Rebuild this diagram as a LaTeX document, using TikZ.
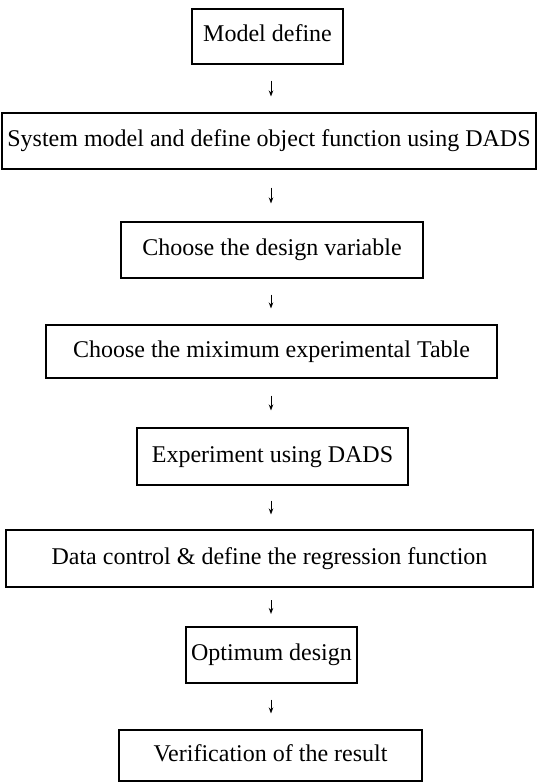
\documentclass[tikz,border=0pt]{standalone}
\usepackage{fontspec}
\setmainfont{Liberation Serif}
\usetikzlibrary{arrows.meta}
\begin{document}
\begin{tikzpicture}[x=1pt,y=-1pt,
  flowbox/.style={draw=black, line width=1.1pt, inner sep=0pt, align=center,
    font=\fontsize{24}{28}\selectfont, text height=16pt, text depth=5pt},
  flowarrow/.style={line width=1pt, -{Stealth[length=6pt,width=4.5pt]},
    shorten <=#1, shorten >=#1}]
\useasboundingbox (0,0) rectangle (537,783);
\coordinate (ax) at (271,0);
\node[flowbox, minimum width=151pt, minimum height=55pt] (b1) at (267.5,36.5) {Model define};
\node[flowbox, minimum width=534pt, minimum height=56pt] (b2) at (269,141) {System model and define object function using DADS};
\node[flowbox, minimum width=302pt, minimum height=56pt] (b3) at (272,250) {Choose the design variable};
\node[flowbox, minimum width=451pt, minimum height=53pt] (b4) at (271.5,351.5) {Choose the miximum experimental Table};
\node[flowbox, minimum width=271pt, minimum height=57pt] (b5) at (272.5,456.5) {Experiment using DADS};
\node[flowbox, minimum width=527pt, minimum height=57pt] (b6) at (269.5,558.5) {Data control \& define the regression function};
\node[flowbox, minimum width=171pt, minimum height=56pt] (b7) at (271.5,655) {Optimum design};
\node[flowbox, minimum width=303pt, minimum height=51pt] (b8) at (270.5,755.5) {Verification of the result};
\draw[flowarrow=16pt] (b1.south -| ax) -- (b2.north -| ax);
\draw[flowarrow=18pt] (b2.south -| ax) -- (b3.north -| ax);
\draw[flowarrow=16pt] (b3.south -| ax) -- (b4.north -| ax);
\draw[flowarrow=17pt] (b4.south -| ax) -- (b5.north -| ax);
\draw[flowarrow=15pt] (b5.south -| ax) -- (b6.north -| ax);
\draw[flowarrow=12.5pt] (b6.south -| ax) -- (b7.north -| ax);
\draw[flowarrow=16pt] (b7.south -| ax) -- (b8.north -| ax);
\end{tikzpicture}
\end{document}
